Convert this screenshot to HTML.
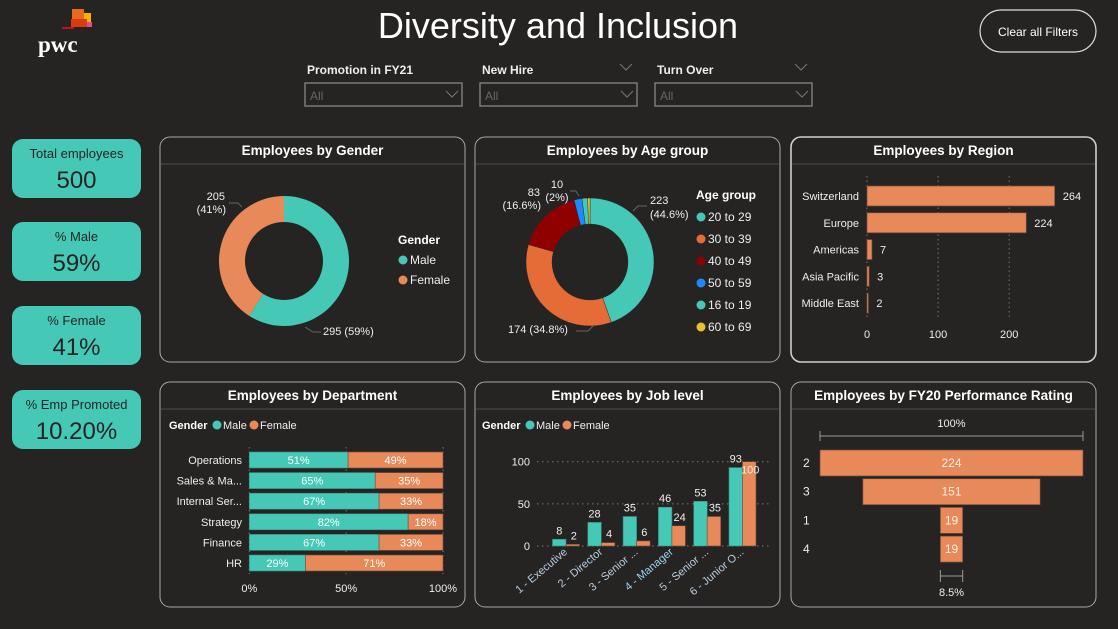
<!DOCTYPE html>
<html><head><meta charset="utf-8">
<style>
html,body{margin:0;padding:0;background:#252423;width:1118px;height:629px;overflow:hidden;font-family:"Liberation Sans",sans-serif;}
svg{position:absolute;left:0;top:0}
text{font-family:"Liberation Sans",sans-serif;}
</style></head>
<body>
<svg id="s" width="1118" height="629" viewBox="0 0 1118 629" xmlns="http://www.w3.org/2000/svg">
  <g>
    <rect x="72" y="9" width="12" height="10" fill="#e66b1f"/>
    <rect x="84" y="13" width="7" height="9" fill="#f4b400"/>
    <rect x="71" y="19" width="16" height="8" fill="#d93a10"/>
    <rect x="87" y="22" width="5" height="5" fill="#e94b8a"/>
    <rect x="62" y="27" width="12" height="2" fill="#b8141a"/>
    <text x="38" y="52" style="font-family:'Liberation Serif',serif;font-weight:bold;font-size:23px" fill="#fff">pwc</text>
  </g>
  <text x="558" y="38" text-anchor="middle" font-size="36" fill="#fff">Diversity and Inclusion</text>
  <g>
    <rect x="980" y="10" width="116" height="42" rx="21" fill="#252423" stroke="#ddd" stroke-width="1.2"/>
    <text x="1038" y="36" text-anchor="middle" font-size="12" fill="#fff">Clear all Filters</text>
  </g>
  <g id="slicers"></g>
  <g id="kpis"></g>
  <g id="panels"></g>
  <g id="charts"></g>
</svg>
<script>
const NS="http://www.w3.org/2000/svg";
function mk(parent,tag,attrs,txt){const e=document.createElementNS(NS,tag);for(const k in attrs)e.setAttribute(k,attrs[k]);if(txt!==undefined)e.textContent=txt;parent.appendChild(e);return e;}
const TEAL="#45c9b6", ORANGE="#e8895a";
const sl=document.getElementById('slicers');
const slicerNames=["Promotion in FY21","New Hire","Turn Over"];
const slicerX=[305,480,655];
slicerNames.forEach((n,i)=>{
  const g=mk(sl,'g',{});
  
  
  const x=slicerX[i];
  mk(g,'text',{x:x+2,y:74,'font-size':12,'font-weight':'bold',fill:'#eee'},n);
  mk(g,'rect',{x:x,y:83,width:157,height:23,fill:'none',stroke:'#888','stroke-width':1.3});
  mk(g,'text',{x:x+5,y:100,'font-size':12,fill:'#666'},'All');
  mk(g,'path',{d:`M${x+141} ${91}l6 6l6 -6`,fill:'none',stroke:'#777','stroke-width':1});
  if(i>0) mk(g,'path',{d:`M${x+140} ${64}l6 6l6 -6`,fill:'none',stroke:'#777','stroke-width':1});
});
const kpiLabels=["Total employees","% Male","% Female","% Emp Promoted"];
const kpiValues=["500","59%","41%","10.20%"];
const kpiY=[139,222,306,390];
const kp=document.getElementById('kpis');
kpiLabels.forEach((l,i)=>{
  const g=mk(kp,'g',{});
  
  
  const y=kpiY[i];
  mk(g,'rect',{x:12,y:y,width:129,height:59,rx:11,fill:TEAL});
  mk(g,'text',{x:76.5,y:y+19,'text-anchor':'middle','font-size':13,fill:'#252423'},l);
  mk(g,'text',{x:76.5,y:y+49,'text-anchor':'middle','font-size':24,fill:'#252423'},kpiValues[i]);
});
const pn=document.getElementById('panels');
const panelTitles=["Employees by Gender","Employees by Age group","Employees by Region","Employees by Department","Employees by Job level","Employees by FY20 Performance Rating"];
const panelX=[160,475,791], panelY=[137,382];
panelTitles.forEach((t,i)=>{
  const x=panelX[i%3], y=panelY[Math.floor(i/3)];
  const g=mk(pn,'g',{});
  
  
  mk(g,'rect',{x:x,y:y,width:305,height:225,rx:10,fill:'#252423',stroke:i==2?'#cfcfcf':'#a8a8a8','stroke-width':i==2?1.6:1});
  mk(g,'line',{x1:x+1,y1:y+27,x2:x+304,y2:y+27,stroke:'#444','stroke-width':1.2});
  mk(g,'text',{x:x+152.5,y:y+18,'text-anchor':'middle','font-size':13.5,'font-weight':'bold',fill:'#fff'},t);
});
const ch=document.getElementById('charts');
function arc(cx,cy,r0,r1,a0,a1){
  const p=(r,a)=>[cx+r*Math.sin(a),cy-r*Math.cos(a)];
  const large=(a1-a0)>Math.PI?1:0;
  const [x0,y0]=p(r1,a0),[x1,y1]=p(r1,a1),[x2,y2]=p(r0,a1),[x3,y3]=p(r0,a0);
  return `M${x0} ${y0}A${r1} ${r1} 0 ${large} 1 ${x1} ${y1}L${x2} ${y2}A${r0} ${r0} 0 ${large} 0 ${x3} ${y3}Z`;
}
function legend(g,x,y,title,names,colors,dy){
  mk(g,'text',{x:x,y:y,'font-size':12,'font-weight':'bold',fill:'#fff'},title);
  names.forEach((n,i)=>{
    const e=mk(g,'g',{});
    
    
    mk(e,'circle',{cx:x+5,cy:y+dy*(i+1)-4,r:4.5,fill:colors[i]});
    mk(e,'text',{x:x+12,y:y+dy*(i+1),'font-size':12,fill:'#eee'},n);
  });
}
</script>
<script>
const genderCats=["Male","Female"];
const genderVals=[295,205];
(function(){
  const g=mk(ch,'g',{});
  
  
  const tot=genderVals.reduce((a,b)=>a+b,0);let a=0;
  const cols=[TEAL,ORANGE];
  genderVals.forEach((v,i)=>{
    const a1=a+v/tot*2*Math.PI;
    const p=mk(g,'path',{d:arc(284,261,39,65,a,a1),fill:cols[i]});
    
    
    a=a1;
  });
  const pct=v=>Math.round(v/tot*100)+'%';
  mk(g,'text',{x:323,y:335,'font-size':11,fill:'#eee'},genderVals[0]+' ('+pct(genderVals[0])+')');
  mk(g,'path',{d:'M305 327l8 5h8',fill:'none',stroke:'#666'});
  mk(g,'text',{x:225,y:200,'text-anchor':'end','font-size':11,fill:'#eee'},genderVals[1]);
  mk(g,'text',{x:226,y:213,'text-anchor':'end','font-size':11,fill:'#eee'},'('+pct(genderVals[1])+')');
  mk(g,'path',{d:'M229 203h9l4 4',fill:'none',stroke:'#666'});
  legend(g,398,244,'Gender',genderCats,cols,20);
})();
const ageCats=["20 to 29","30 to 39","40 to 49","50 to 59","16 to 19","60 to 69"];
const ageVals=[223,174,83,10,7,3];
(function(){
  const g=mk(ch,'g',{});
  
  
  const cols=[TEAL,"#e66c37","#8f0000","#1a8cff","#45c9b6","#e8c030"];
  const tot=ageVals.reduce((a,b)=>a+b,0);let a=0;
  ageVals.forEach((v,i)=>{
    const a1=a+v/tot*2*Math.PI;
    const p=mk(g,'path',{d:arc(590,262,38,64,a,a1),fill:cols[i],stroke:'#252423','stroke-width':0.4});
    
    
    a=a1;
  });
  const pct=v=>{const x=v/tot*100;return (Math.round(x*10)/10)+'%';};
  mk(g,'text',{x:650,y:204,'font-size':11,fill:'#eee'},ageVals[0]);
  mk(g,'text',{x:650,y:218,'font-size':11,fill:'#eee'},'('+pct(ageVals[0])+')');
  mk(g,'path',{d:'M633 211l5 -5h9',fill:'none',stroke:'#666'});
  mk(g,'text',{x:508,y:333,'font-size':11,fill:'#eee'},ageVals[1]+' ('+pct(ageVals[1])+')');
  mk(g,'path',{d:'M576 331h12l6 -6',fill:'none',stroke:'#666'});
  mk(g,'text',{x:540,y:196,'text-anchor':'end','font-size':11,fill:'#eee'},ageVals[2]);
  mk(g,'text',{x:541,y:209,'text-anchor':'end','font-size':11,fill:'#eee'},'('+pct(ageVals[2])+')');
  mk(g,'text',{x:557,y:188,'text-anchor':'middle','font-size':11,fill:'#eee'},ageVals[3]);
  mk(g,'text',{x:557,y:201,'text-anchor':'middle','font-size':11,fill:'#eee'},'('+Math.round(ageVals[3]/tot*100)+'%)');
  mk(g,'path',{d:'M570 191h6l3 5',fill:'none',stroke:'#666'});
  legend(g,696,199,'Age group',ageCats,cols,22);
})();
const regionCats=["Switzerland","Europe","Americas","Asia Pacific","Middle East"];
const regionVals=[264,224,7,3,2];
const regionTicks=[0,100,200];
(function(){
  const g=mk(ch,'g',{});
  
  
  const X=v=>867+v*0.711, top=186, pitch=26.8, h=20;
  regionTicks.forEach(t=>{
    mk(g,'line',{x1:X(t),y1:176,x2:X(t),y2:318,stroke:'#777','stroke-dasharray':'1.5 3'});
    const tl=mk(g,'text',{x:X(t),y:338,'text-anchor':'middle','font-size':11,fill:'#eee'},t);
    
    
  });
  regionCats.forEach((c,i)=>{
    const y=top+i*pitch;
    mk(g,'text',{x:859,y:y+14,'text-anchor':'end','font-size':11,fill:'#eee'},c);
    const b=mk(g,'rect',{x:X(0),y:y,width:Math.max(1,X(regionVals[i])-X(0)),height:h,fill:ORANGE,stroke:'#6b4a38','stroke-width':0.7});
    
    
    mk(g,'text',{x:X(regionVals[i])+8,y:y+14,'font-size':11,fill:'#eee'},regionVals[i]);
  });
})();
const deptCats=["Operations","Sales & Ma...","Internal Ser...","Strategy","Finance","HR"];
const deptMale=[51,65,67,82,67,29];
const deptFemale=[49,35,33,18,33,71];
const deptTicks=[0,50,100];
(function(){
  const g=mk(ch,'g',{});
  
  
  legend2(g,169,429);
  const X=v=>249.3+v*1.937, top=452, pitch=20.6, h=16;
  deptTicks.forEach(t=>{
    mk(g,'line',{x1:X(t),y1:447,x2:X(t),y2:574,stroke:'#777','stroke-dasharray':'1.5 3'});
    mk(g,'text',{x:X(t),y:592,'text-anchor':'middle','font-size':11,fill:'#eee'},t+'%');
  });
  deptCats.forEach((c,i)=>{
    const y=top+i*pitch, tot=deptMale[i]+deptFemale[i];
    const m=deptMale[i]/tot*100;
    mk(g,'text',{x:242,y:y+12,'text-anchor':'end','font-size':11,fill:'#eee'},c);
    const b1=mk(g,'rect',{x:X(0),y:y,width:X(m)-X(0),height:h,fill:TEAL,stroke:'#3a8a7e','stroke-width':0.6});
    
    
    const b2=mk(g,'rect',{x:X(m),y:y,width:X(100)-X(m),height:h,fill:ORANGE,stroke:'#6b4a38','stroke-width':0.6});
    
    
    mk(g,'text',{x:(X(0)+X(m))/2,y:y+12,'text-anchor':'middle','font-size':11,fill:'#fff'},deptMale[i]+'%');
    mk(g,'text',{x:(X(m)+X(100))/2,y:y+12,'text-anchor':'middle','font-size':11,fill:'#fff'},deptFemale[i]+'%');
  });
})();
function legend2(g,x,y){
  mk(g,'text',{x:x,y:y,'font-size':11,'font-weight':'bold',fill:'#fff'},'Gender');
  const e1=mk(g,'g',{});
  
  
  mk(e1,'circle',{cx:x+48,cy:y-4,r:4.5,fill:TEAL});
  mk(e1,'text',{x:x+54,y:y,'font-size':11,fill:'#eee'},'Male');
  const e2=mk(g,'g',{});
  
  
  mk(e2,'circle',{cx:x+85,cy:y-4,r:4.5,fill:ORANGE});
  mk(e2,'text',{x:x+91,y:y,'font-size':11,fill:'#eee'},'Female');
}
const jobCats=["1 - Executive","2 - Director","3 - Senior ...","4 - Manager","5 - Senior ...","6 - Junior O..."];
const jobMale=[8,28,35,46,53,93];
const jobFemale=[2,4,6,24,35,100];
const jobTicks=[0,50,100];
(function(){
  const g=mk(ch,'g',{});
  
  
  legend2(g,482,429);
  const Y=v=>546-v*0.843, cx0=566, pitch=35.3, bw=13.5;
  jobTicks.forEach(t=>{
    mk(g,'line',{x1:537,y1:Y(t),x2:770,y2:Y(t),stroke:'#777','stroke-dasharray':'1.5 3.5'});
    mk(g,'text',{x:530,y:Y(t)+4,'text-anchor':'end','font-size':11,fill:'#eee'},t);
  });
  jobCats.forEach((c,i)=>{
    const cx=cx0+i*pitch;
    const b1=mk(g,'rect',{x:cx-bw,y:Y(jobMale[i]),width:bw,height:Y(0)-Y(jobMale[i]),fill:TEAL,stroke:'#3a8a7e','stroke-width':0.6});
    
    
    const b2=mk(g,'rect',{x:cx,y:Y(jobFemale[i]),width:bw,height:Y(0)-Y(jobFemale[i]),fill:ORANGE,stroke:'#6b4a38','stroke-width':0.6});
    
    
    mk(g,'text',{x:cx-bw/2,y:Y(jobMale[i])-5,'text-anchor':'middle','font-size':11,fill:'#eee'},jobMale[i]);
    const fy=(jobFemale[i]>jobMale[i])?Y(jobFemale[i])+12:Y(jobFemale[i])-5;
    mk(g,'text',{x:cx+bw/2+1,y:fy,'text-anchor':'middle','font-size':11,fill:'#eee'},jobFemale[i]);
    mk(g,'text',{x:cx+2,y:553,'text-anchor':'end','font-size':11,fill:i==3?'#9fd3f0':'#bcd',transform:`rotate(-40 ${cx+2} 553)`},c);
  });
})();
const perfCats=["2","3","1","4"];
const perfVals=[224,151,19,19];
(function(){
  const g=mk(ch,'g',{});
  
  
  const cx=951.5, k=263/Math.max(...perfVals), top=450, pitch=28.7, h=26;
  const wMax=perfVals[0]*k, wLast=perfVals[perfVals.length-1]*k;
  mk(g,'text',{x:cx,y:427,'text-anchor':'middle','font-size':11,fill:'#eee'},'100%');
  mk(g,'path',{d:`M${cx-wMax/2} 431v10M${cx-wMax/2} 436H${cx+wMax/2}M${cx+wMax/2} 431v10`,stroke:'#999',fill:'none'});
  perfCats.forEach((c,i)=>{
    const y=top+i*pitch, w=perfVals[i]*k;
    mk(g,'text',{x:803,y:y+17,'font-size':12,fill:'#eee'},c);
    const b=mk(g,'rect',{x:cx-w/2,y:y,width:w,height:h,fill:ORANGE,stroke:'#6b4a38','stroke-width':0.7});
    
    
    mk(g,'text',{x:cx,y:y+17,'text-anchor':'middle','font-size':12,fill:'#fbeee6'},perfVals[i]);
  });
  mk(g,'path',{d:`M${cx-wLast/2} 570v12M${cx-wLast/2} 576H${cx+wLast/2}M${cx+wLast/2} 570v12`,stroke:'#999',fill:'none'});
  mk(g,'text',{x:cx,y:596,'text-anchor':'middle','font-size':11,fill:'#eee'},(Math.round(perfVals[perfVals.length-1]/perfVals[0]*1000)/10)+'%');
})();
</script>
</body></html>
